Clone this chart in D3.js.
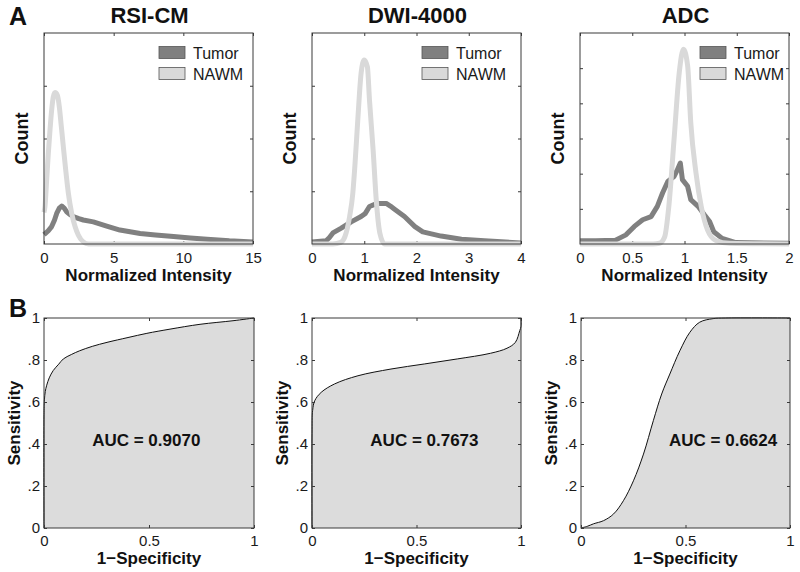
<!DOCTYPE html>
<html>
<head>
<meta charset="utf-8">
<script src="https://cdn.jsdelivr.net/npm/d3@7"></script>
<style>
  html, body { margin: 0; padding: 0; background: #fff; }
  svg { display: block; }
  text { font-family: "Liberation Sans", Arial, Helvetica, sans-serif; }
</style>
</head>
<body>
<svg id="chart" width="800" height="572"></svg>
<script>
// ---------------- DATA ----------------
const panelTitles = ["RSI-CM", "DWI-4000", "ADC"];
const seriesNames = ["Tumor", "NAWM"];
const aucLabels = ["AUC = 0.9070", "AUC = 0.7673", "AUC = 0.6624"];

// Histogram x-axis ranges and ticks
const histXMax = [15, 4, 2];
const histXTicks = [[0, 5, 10, 15], [0, 1, 2, 3, 4], [0, 0.5, 1, 1.5, 2]];
const histXTickLabels = [["0", "5", "10", "15"], ["0", "1", "2", "3", "4"], ["0", "0.5", "1", "1.5", "2"]];
const histYMax = [4, 4, 6];
const histYTicks = [[1, 2, 3], [1, 2, 3], [1, 2, 3, 4, 5]];

// RSI-CM histogram
const rsiNawmX = [0, 0.07, 0.19, 0.31, 0.43, 0.55, 0.67, 0.79, 0.96, 1.1, 1.22, 1.39, 1.56, 1.75, 1.99, 2.23, 2.46, 2.82, 3.2, 5, 10, 15];
const rsiNawmY = [0.6, 0.71, 1.21, 1.72, 2.16, 2.54, 2.79, 2.87, 2.82, 2.6, 2.29, 1.84, 1.4, 0.96, 0.58, 0.33, 0.17, 0.04, 0.0, 0, 0, 0];
const rsiTumorX = [0, 0.3, 0.55, 0.75, 0.91, 1.1, 1.27, 1.45, 1.63, 1.85, 2.1, 2.5, 2.82, 3.54, 4.5, 5.45, 6.9, 8, 9.3, 10.5, 11.7, 13.3, 15];
const rsiTumorY = [0.18, 0.25, 0.33, 0.45, 0.58, 0.68, 0.72, 0.68, 0.61, 0.56, 0.52, 0.48, 0.455, 0.42, 0.34, 0.265, 0.2, 0.17, 0.14, 0.115, 0.09, 0.06, 0.04];

// DWI-4000 histogram
const dwiNawmX = [0, 0.4, 0.55, 0.63, 0.72, 0.78, 0.82, 0.88, 0.94, 1.0, 1.06, 1.1, 1.17, 1.23, 1.3, 1.39, 2, 4];
const dwiNawmY = [0, 0, 0.03, 0.14, 0.52, 0.95, 1.47, 2.41, 3.24, 3.49, 3.36, 2.73, 1.78, 0.83, 0.2, 0, 0, 0];
const dwiTumorX = [0, 0.27, 0.33, 0.4, 0.56, 0.75, 0.94, 1.02, 1.1, 1.2, 1.3, 1.42, 1.5, 1.58, 1.77, 1.97, 2.12, 2.47, 2.86, 3.3, 4];
const dwiTumorY = [0.04, 0.06, 0.12, 0.21, 0.3, 0.42, 0.52, 0.58, 0.71, 0.75, 0.77, 0.77, 0.72, 0.66, 0.52, 0.33, 0.23, 0.15, 0.09, 0.06, 0.02];

// ADC histogram
const adcNawmX = [0, 0.7, 0.76, 0.81, 0.85, 0.9, 0.95, 0.99, 1.03, 1.06, 1.11, 1.16, 1.22, 1.3, 1.43, 2];
const adcNawmY = [0, 0, 0.02, 0.2, 1.07, 2.97, 4.88, 5.54, 5.07, 3.45, 2.02, 1.07, 0.4, 0.1, 0.02, 0];
const adcTumorX = [0, 0.15, 0.34, 0.44, 0.52, 0.6, 0.68, 0.74, 0.79, 0.84, 0.9, 0.93, 0.96, 0.98, 1.03, 1.06, 1.13, 1.19, 1.24, 1.28, 1.36, 1.49, 2];
const adcTumorY = [0.09, 0.09, 0.11, 0.26, 0.5, 0.69, 0.78, 1.07, 1.45, 1.78, 1.92, 2.1, 2.3, 1.83, 1.64, 1.26, 1.07, 0.83, 0.64, 0.35, 0.16, 0.04, 0.02];

// ROC curves (1-specificity, sensitivity)
const rocRsiFpr = [0, 0, 0.002, 0.006, 0.013, 0.025, 0.044, 0.07, 0.092, 0.13, 0.17, 0.23, 0.3, 0.4, 0.49, 0.6, 0.743, 0.9, 1];
const rocRsiTpr = [0, 0.55, 0.61, 0.65, 0.68, 0.715, 0.75, 0.78, 0.805, 0.826, 0.844, 0.865, 0.884, 0.907, 0.927, 0.947, 0.97, 0.987, 1];
const rocDwiFpr = [0, 0, 0.003, 0.013, 0.044, 0.108, 0.22, 0.378, 0.537, 0.695, 0.854, 0.933, 0.973, 0.994, 1, 1];
const rocDwiTpr = [0, 0.45, 0.56, 0.606, 0.646, 0.686, 0.725, 0.757, 0.781, 0.805, 0.832, 0.856, 0.884, 0.94, 0.96, 1];
const rocAdcFpr = [0, 0.03, 0.06, 0.108, 0.156, 0.203, 0.251, 0.299, 0.346, 0.386, 0.425, 0.473, 0.521, 0.568, 0.632, 0.69, 1];
const rocAdcTpr = [0, 0.008, 0.02, 0.035, 0.067, 0.13, 0.225, 0.352, 0.511, 0.638, 0.733, 0.844, 0.932, 0.98, 0.997, 1, 1];

const rocTicks = [0, 0.2, 0.4, 0.6, 0.8, 1];
const rocYTickLabels = ["0", ".2", ".4", ".6", ".8", "1"];
const rocXTicks = [0, 0.5, 1];
const rocXTickLabels = ["0", "0.5", "1"];

// ---------------- LAYOUT ----------------
const topBoxes = [{x0: 44, x1: 253}, {x0: 312, x1: 521}, {x0: 580, x1: 789}];
const topY0 = 33, topY1 = 244;
const botBoxes = [{x0: 44, x1: 254}, {x0: 312, x1: 521}, {x0: 581, x1: 790}];
const botY0 = 318, botY1 = 528;
const legendOffsets = [115, 110, 120];
const aucPos = [{x: 0.487, y: 0.39}, {x: 0.538, y: 0.39}, {x: 0.68, y: 0.39}];

const colTumor = "#808080", colNawm = "#d9d9d9";
const boxColor = "#3a3a3a";
const fontFam = "'Liberation Sans', Arial, Helvetica, sans-serif";

const histData = [
  {tumor: d3.zip(rsiTumorX, rsiTumorY), nawm: d3.zip(rsiNawmX, rsiNawmY)},
  {tumor: d3.zip(dwiTumorX, dwiTumorY), nawm: d3.zip(dwiNawmX, dwiNawmY)},
  {tumor: d3.zip(adcTumorX, adcTumorY), nawm: d3.zip(adcNawmX, adcNawmY)}
];
const rocData = [d3.zip(rocRsiFpr, rocRsiTpr), d3.zip(rocDwiFpr, rocDwiTpr), d3.zip(rocAdcFpr, rocAdcTpr)];

const svg = d3.select("#chart");

function styleAxis(g) {
  g.select(".domain").remove();
  g.selectAll(".tick line").attr("stroke", boxColor).attr("stroke-width", 1);
  g.selectAll(".tick text").attr("fill", "#1a1a1a").style("font-family", fontFam);
}

// Panel letters
svg.append("text").attr("x", 9).attr("y", 25).text("A")
  .attr("font-size", 25).attr("font-weight", "bold").attr("fill", "#111");
svg.append("text").attr("x", 9).attr("y", 317).text("B")
  .attr("font-size", 25).attr("font-weight", "bold").attr("fill", "#111");

// ---------------- TOP PANELS ----------------
topBoxes.forEach((b, i) => {
  const x = d3.scaleLinear().domain([0, histXMax[i]]).range([b.x0, b.x1]);
  const y = d3.scaleLinear().domain([0, histYMax[i]]).range([topY1, topY0]);
  const g = svg.append("g");

  // title
  g.append("text").attr("x", (b.x0 + b.x1) / 2 + 1).attr("y", 23)
    .attr("text-anchor", "middle").attr("font-size", 22).attr("font-weight", "bold")
    .attr("fill", "#111").text(panelTitles[i]);

  // axes with inward ticks
  const fmt = (d) => histXTickLabels[i][histXTicks[i].indexOf(d)];
  g.append("g").attr("transform", `translate(0,${topY1})`)
    .call(d3.axisBottom(x).tickValues(histXTicks[i]).tickFormat(fmt).tickSize(-3).tickPadding(8))
    .call(styleAxis).selectAll("text").attr("font-size", 15);
  g.append("g").attr("transform", `translate(0,${topY0})`)
    .call(d3.axisTop(x).tickValues(histXTicks[i]).tickFormat("").tickSize(-3))
    .call(styleAxis);
  g.append("g").attr("transform", `translate(${b.x0},0)`)
    .call(d3.axisLeft(y).tickValues(histYTicks[i]).tickFormat("").tickSize(-3))
    .call(styleAxis);
  g.append("g").attr("transform", `translate(${b.x1},0)`)
    .call(d3.axisRight(y).tickValues(histYTicks[i]).tickFormat("").tickSize(-3))
    .call(styleAxis);

  // lines
  const lineT = d3.line().x(d => x(d[0])).y(d => y(d[1])).curve(d3.curveLinear);
  const lineN = d3.line().x(d => x(d[0])).y(d => y(d[1])).curve(d3.curveMonotoneX);
  g.append("path").datum(histData[i].tumor).attr("d", lineT)
    .attr("fill", "none").attr("stroke", colTumor).attr("stroke-width", 5)
    .attr("stroke-linejoin", "round").attr("stroke-linecap", "butt");
  g.append("path").datum(histData[i].nawm).attr("d", lineN)
    .attr("fill", "none").attr("stroke", colNawm).attr("stroke-width", 5)
    .attr("stroke-linejoin", "round").attr("stroke-linecap", "butt");

  // box
  g.append("rect").attr("x", b.x0).attr("y", topY0)
    .attr("width", b.x1 - b.x0).attr("height", topY1 - topY0)
    .attr("fill", "none").attr("stroke", boxColor).attr("stroke-width", 1);

  // legend
  const lx = b.x0 + legendOffsets[i];
  [colTumor, colNawm].forEach((c, k) => {
    g.append("rect").attr("x", lx).attr("y", 46.5 + k * 21).attr("width", 26).attr("height", 12)
      .attr("fill", c).attr("stroke", "#555").attr("stroke-width", 0.8);
    g.append("text").attr("x", lx + 34).attr("y", 58.5 + k * 21)
      .attr("font-size", 16).attr("fill", "#1a1a1a").text(seriesNames[k]);
  });

  // axis labels
  g.append("text").attr("x", (b.x0 + b.x1) / 2).attr("y", 281)
    .attr("text-anchor", "middle").attr("font-size", 17).attr("font-weight", "bold")
    .attr("fill", "#111").text("Normalized Intensity");
  g.append("text")
    .attr("transform", `translate(${b.x0 - 16},${(topY0 + topY1) / 2}) rotate(-90)`)
    .attr("text-anchor", "middle").attr("font-size", 18).attr("font-weight", "bold")
    .attr("fill", "#111").text("Count");
});

// ---------------- BOTTOM PANELS ----------------
botBoxes.forEach((b, i) => {
  const x = d3.scaleLinear().domain([0, 1]).range([b.x0, b.x1]);
  const y = d3.scaleLinear().domain([0, 1]).range([botY1, botY0]);
  const g = svg.append("g");

  const area = d3.area().x(d => x(d[0])).y0(y(0)).y1(d => y(d[1])).curve(d3.curveCatmullRom.alpha(0.5));
  const line = d3.line().x(d => x(d[0])).y(d => y(d[1])).curve(d3.curveCatmullRom.alpha(0.5));
  g.append("path").datum(rocData[i]).attr("d", area).attr("fill", "#dcdcdc").attr("stroke", "none");
  g.append("path").datum(rocData[i]).attr("d", line).attr("fill", "none")
    .attr("stroke", "#111").attr("stroke-width", 1);

  const fx = (d) => rocXTickLabels[rocXTicks.indexOf(d)];
  const fy = (d) => rocYTickLabels[rocTicks.indexOf(d)];
  g.append("g").attr("transform", `translate(0,${botY1})`)
    .call(d3.axisBottom(x).tickValues(rocXTicks).tickFormat(fx).tickSize(-3).tickPadding(7))
    .call(styleAxis).selectAll("text").attr("font-size", 15);
  g.append("g").attr("transform", `translate(0,${botY0})`)
    .call(d3.axisTop(x).tickValues(rocXTicks).tickFormat("").tickSize(-3))
    .call(styleAxis);
  g.append("g").attr("transform", `translate(${b.x0},0)`)
    .call(d3.axisLeft(y).tickValues(rocTicks).tickFormat(fy).tickSize(-3).tickPadding(4))
    .call(styleAxis).selectAll("text").attr("font-size", 15);
  g.append("g").attr("transform", `translate(${b.x1},0)`)
    .call(d3.axisRight(y).tickValues(rocTicks).tickFormat("").tickSize(-3))
    .call(styleAxis);

  g.append("rect").attr("x", b.x0).attr("y", botY0)
    .attr("width", b.x1 - b.x0).attr("height", botY1 - botY0)
    .attr("fill", "none").attr("stroke", boxColor).attr("stroke-width", 1);

  g.append("text").attr("x", x(aucPos[i].x)).attr("y", y(aucPos[i].y))
    .attr("text-anchor", "middle").attr("font-size", 17).attr("font-weight", "bold")
    .attr("fill", "#111").text(aucLabels[i]);

  g.append("text").attr("x", (b.x0 + b.x1) / 2).attr("y", 564)
    .attr("text-anchor", "middle").attr("font-size", 17).attr("font-weight", "bold")
    .attr("fill", "#111").text("1\u2212Specificity");
  g.append("text")
    .attr("transform", `translate(${b.x0 - 24.5},${(botY0 + botY1) / 2}) rotate(-90)`)
    .attr("text-anchor", "middle").attr("font-size", 17).attr("font-weight", "bold")
    .attr("fill", "#111").text("Sensitivity");
});
</script>
</body>
</html>
